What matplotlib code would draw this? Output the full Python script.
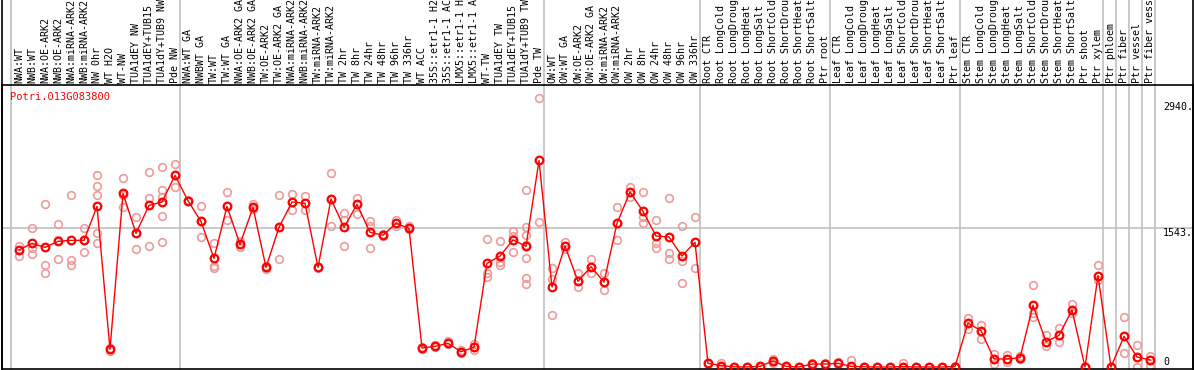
import matplotlib
matplotlib.use("Agg")
import matplotlib.pyplot as plt
from matplotlib.lines import Line2D

gene = "Potri.013G083800"

samples = [
    "NWA:WT", "NWB:WT", "NWA:OE-ARK2", "NWB:OE-ARK2", "NWA:miRNA-ARK2",
    "NWB:miRNA-ARK2", "NW 0hr", "WT H2O", "WT-NW", "TUA1dEY NW",
    "TUA1dEY+TUB15 NW", "TUA1dY+TUB9 NW", "Pde NW",
    "NWA:WT GA", "NWBWT GA", "TW:WT", "TW:WT GA", "NWA:OE-ARK2 GA",
    "NWB:OE-ARK2 GA", "TW:OE-ARK2", "TW:OE-ARK2 GA", "NWA:miRNA-ARK2 GA",
    "NWB:miRNA-ARK2 GA", "TW:miRNA-ARK2", "TW:miRNA-ARK2 GA", "TW 2hr",
    "TW 8hr", "TW 24hr", "TW 48hr", "TW 96hr", "TW 336hr", "WT ACC",
    "35S::etr1-1 H2O", "35S::etr1-1 ACC", "LMX5::etr1-1 H2O",
    "LMX5::etr1-1 ACC", "WT-TW", "TUA1dEY TW", "TUA1dEY+TUB15 TW",
    "TUA1dY+TUB9 TW", "Pde TW",
    "OW:WT", "OW:WT GA", "OW:OE-ARK2", "OW:OE-ARK2 GA", "OW:miRNA-ARK2",
    "OW:miRNA-ARK2 GA", "OW 2hr", "OW 8hr", "OW 24hr", "OW 48hr", "OW 96hr",
    "OW 336hr",
    "Root CTR", "Root LongCold", "Root LongDrought", "Root LongHeat",
    "Root LongSalt", "Root ShortCold", "Root ShortDrought", "Root ShortHeat",
    "Root ShortSalt", "Ptr root",
    "Leaf CTR", "Leaf LongCold", "Leaf LongDrought", "Leaf LongHeat",
    "Leaf LongSalt", "Leaf ShortCold", "Leaf ShortDrought", "Leaf ShortHeat",
    "Leaf ShortSalt", "Ptr leaf",
    "Stem CTR", "Stem LongCold", "Stem LongDrought", "Stem LongHeat",
    "Stem LongSalt", "Stem ShortCold", "Stem ShortDrought", "Stem ShortHeat",
    "Stem ShortSalt", "Ptr shoot", "Ptr xylem", "Ptr phloem", "Ptr fiber",
    "Ptr vessel", "Ptr fiber vessel",
]

means = [
    1300, 1373, 1328, 1395, 1406, 1406, 1783, 196, 1928, 1484, 1794, 1832, 2127,
    1846, 1616, 1206, 1783, 1362, 1772, 1106, 1550, 1832, 1817, 1106, 1865,
    1550, 1806, 1495, 1462, 1595, 1539, 211, 229, 263, 170, 219, 1151, 1232,
    1410, 1340, 2293,
    888, 1343, 951, 1114, 943, 1595, 1943, 1728, 1454, 1443, 1232, 1384,
    41, 15, 2, 0, 7, 67, 7, 0, 33, 33,
    41, 7, 2, 0, 0, 4, 0, 0, 0, 5,
    488, 403, 89, 89, 104, 685, 281, 351, 633, 0, 1014, 0, 340, 111, 78,
]

replicates = [
    [1340, 1230, 1300], [1539, 1325, 1251], [1806, 1132, 1040],
    [1584, 1195, 1406], [1905, 1188, 1129], [1539, 1273, 1406],
    [2127, 2005, 1905, 1484, 1373], [210, 180, 198], [2094, 1779, 1911],
    [1661, 1306, 1484], [2160, 1872, 1340], [2224, 1961, 1891, 1676, 1384],
    [2253, 1994, 2134],
    [1846, 1840, 1852], [1783, 1439, 1616], [1373, 1121, 1096],
    [1939, 1628, 1783], [1399, 1336, 1362], [1809, 1750, 1772],
    [1120, 1090, 1106], [1905, 1195, 1550], [1916, 1739, 1832],
    [1894, 1739, 1817], [1115, 1098, 1106], [2149, 1565, 1865],
    [1705, 1628, 1340], [1872, 1694, 1806], [1617, 1570, 1317],
    [1475, 1450, 1462], [1628, 1565, 1595], [1560, 1530, 1539],
    [220, 205, 211], [240, 220, 229], [285, 250, 263], [155, 190, 170],
    [250, 190, 219], [1417, 1040, 996], [1395, 1170, 1130],
    [1510, 1450, 1280], [1961, 1554, 1460, 1350, 1206, 988, 918],
    [2983, 1606, 2293],
    [1096, 973, 574], [1391, 1310, 1343], [1040, 885, 951], [1199, 1040, 1114],
    [1043, 855, 943], [1776, 1406, 1595], [1998, 1891, 1943],
    [1943, 1661, 1595], [1632, 1380, 1321], [1872, 1265, 1195],
    [1562, 1177, 932], [1661, 1096, 1384],
    [45, 38, 41], [40, 10, 0], [5, 0, 0], [0, 0, 0], [15, 5, 0],
    [90, 45, 67], [15, 5, 0], [0, 0, 0], [45, 25, 33], [40, 30, 33],
    [50, 35, 41], [80, 0, 0], [5, 0, 0], [0, 0, 0], [0, 0, 0],
    [40, 0, 0], [0, 0, 0], [0, 0, 0], [0, 0, 0], [10, 0, 5],
    [547, 418, 488], [466, 307, 403], [144, 30, 89], [130, 50, 89],
    [120, 85, 104], [906, 600, 551], [355, 233, 281], [429, 281, 351],
    [699, 600, 633], [0, 0, 0], [1129, 966, 1014], [0, 0, 0], [551, 152, 340],
    [244, 0, 111], [125, 11, 78],
]

y_ticks = [0, 1543, 2940]
# last sample index of each block, a grey separator sits just after it
block_ends = [-1, 12, 40, 52, 62, 72, 83, 84, 85, 86, 87]

W, H = 1194, 370
fig = plt.figure(figsize=(W / 100, H / 100), dpi=100)
ax_left, ax_right, ax_top, ax_bot = 2, 1193, 85, 369
ax = fig.add_axes([ax_left / W, 1 - ax_bot / H,
                   (ax_right - ax_left) / W, (ax_bot - ax_top) / H])

ax.set_xlim(-17 / 13, 1174 / 13)
ax.set_ylim(-2 * 1543 / 139, 282 * 1543 / 139)
ax.set_xticks([])
ax.set_yticks([])
for s in ax.spines.values():
    s.set_color("black")
    s.set_linewidth(1.2)

mono = "DejaVu Sans Mono"
ext = (ax_bot - 0) / (ax_bot - ax_top)

ax.axhline(1543, color="#c0c0c0", lw=1.2, zorder=0)
for b in block_ends:
    ax.axvline(b + 0.42, ymin=0, ymax=ext, color="#c0c0c0", lw=1.2,
               clip_on=False, zorder=0)

# outer frame lines through the label band
fig.add_artist(Line2D([ax_left / W, ax_left / W], [0, 1], color="black", lw=1.2))
fig.add_artist(Line2D([ax_right / W, ax_right / W], [0, 1], color="black", lw=1.2))

xs = list(range(len(samples)))
for i, reps in enumerate(replicates):
    ax.plot([i] * len(reps), reps, linestyle="none", marker="o", ms=5.5,
            mfc="none", mec="#f09a9a", mew=1.2, zorder=2, clip_on=False)
ax.plot(xs, means, color="red", lw=1.0, marker="o", ms=5.5, mfc="none",
        mec="red", mew=1.6, zorder=3, clip_on=False)

for i, name in enumerate(samples):
    ax.text(i, ax.get_ylim()[1] + 2 * 1543 / 139, name, rotation=90,
            ha="center", va="bottom", fontsize=7.2, family=mono,
            clip_on=False)

ax.text(10 / W, 1 - 100 / H, gene, transform=fig.transFigure, color="red",
        fontsize=7.5, family=mono, ha="left", va="baseline")

tx = (1163 - ax_left) / (ax_right - ax_left)
for v in y_ticks:
    va = "bottom" if v == 0 else "top"
    ax.text(tx, v, f"{v}." if v else "0", transform=ax.get_yaxis_transform(),
            fontsize=7.2, family=mono, ha="left", va=va)

fig.savefig("out.png", dpi=100)
